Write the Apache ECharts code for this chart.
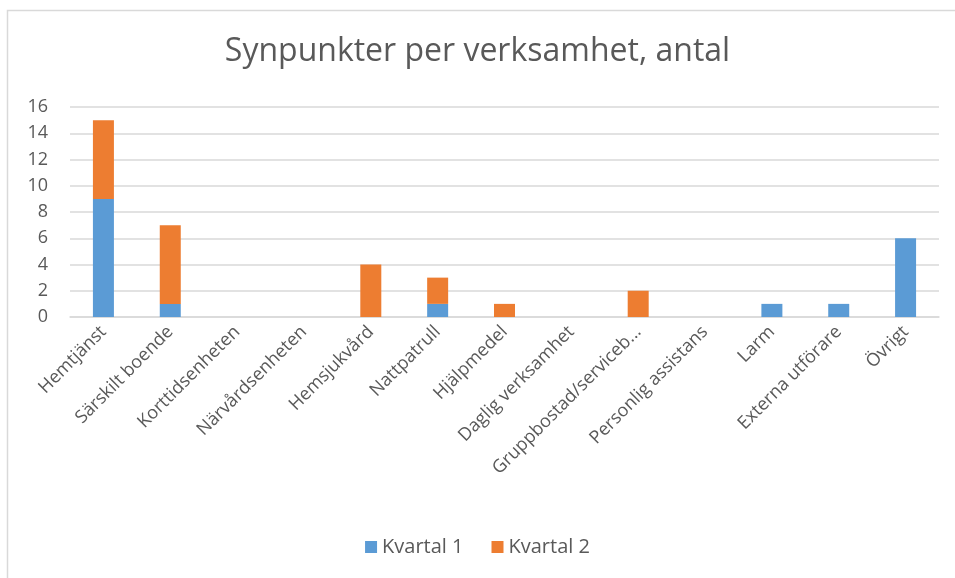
<!DOCTYPE html>
<html>
<head>
<meta charset="utf-8">
<script src="https://cdn.jsdelivr.net/npm/echarts@6/dist/echarts.min.js"></script>
<style>
html,body{margin:0;padding:0;background:#fff;}
#chart{width:955px;height:578px;}
</style>
</head>
<body>
<div id="chart"></div>
<script>
const categories = ['Hemtjänst','Särskilt boende','Korttidsenheten','Närvårdsenheten','Hemsjukvård','Nattpatrull','Hjälpmedel','Daglig verksamhet','Gruppbostad/serviceb...','Personlig assistans','Larm','Externa utförare','Övrigt'];
const kvartal1 = [9,1,0,0,0,1,0,0,0,0,1,1,6];
const kvartal2 = [6,6,0,0,4,2,1,0,2,0,0,0,0];
const yTicks = {min:0, max:16, interval:2};

const chart = echarts.init(document.getElementById('chart'));
const txt = '#595959';
chart.setOption({
  backgroundColor:'#fff',
  animation:false,
  graphic:[{type:'rect', shape:{x:7.5,y:10.5,width:960,height:580}, style:{fill:'none', stroke:'#d9d9d9', lineWidth:1.5}, silent:true}],
  title:{text:'Synpunkter per verksamhet, antal', left:'center', top:31,
    textStyle:{fontFamily:'Open Sans', fontSize:32, fontWeight:'normal', color:txt}},
  legend:{bottom:16, left:'center', itemWidth:12, itemHeight:12, itemGap:28, icon:'rect',
    textStyle:{fontFamily:'Open Sans', fontSize:20, color:txt}},
  grid:{left:70, right:16, top:107, bottom:261},
  xAxis:{type:'category', data:categories,
    axisLine:{lineStyle:{color:'#d9d9d9', width:1.5}}, axisTick:{show:false},
    axisLabel:{rotate:45, interval:0, fontFamily:'Open Sans', fontSize:18, color:txt, margin:12}},
  yAxis:{type:'value', min:yTicks.min, max:yTicks.max, interval:yTicks.interval,
    axisLine:{show:false}, axisTick:{show:false},
    splitLine:{lineStyle:{color:'#d9d9d9', width:1.5}},
    axisLabel:{fontFamily:'Open Sans', fontSize:18, color:txt, margin:22}},
  series:[
    {name:'Kvartal 1', type:'bar', stack:'a', data:kvartal1, barWidth:21, itemStyle:{color:'#5B9BD5'}},
    {name:'Kvartal 2', type:'bar', stack:'a', data:kvartal2, barWidth:21, itemStyle:{color:'#ED7D31'}}
  ]
});
</script>
</body>
</html>
